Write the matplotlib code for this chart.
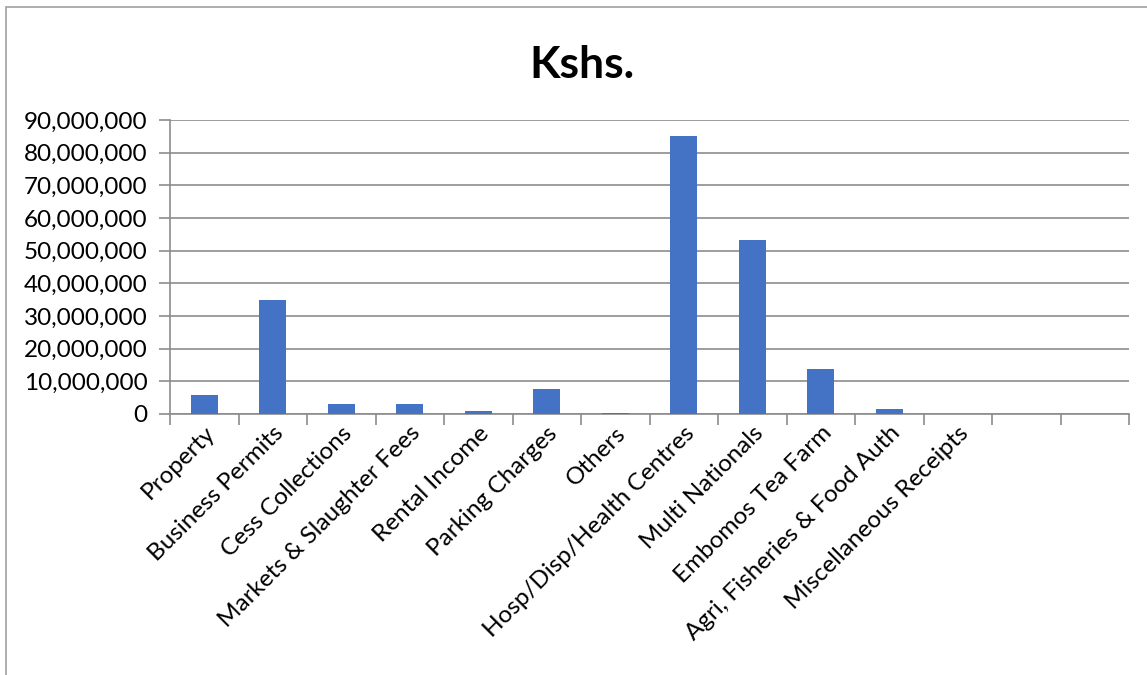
import numpy as np
import matplotlib.pyplot as plt
from matplotlib.ticker import FuncFormatter, MultipleLocator
from matplotlib.patches import Rectangle

plt.rcParams['font.family'] = ['Lato', 'DejaVu Sans']

categories = ['Property', 'Business Permits', 'Cess Collections', 'Markets & Slaughter Fees',
              'Rental Income', 'Parking Charges', 'Others', 'Hosp/Disp/Health Centres',
              'Multi Nationals', 'Embomos Tea Farm', 'Agri, Fisheries & Food Auth',
              'Miscellaneous Receipts', '', '']
values = [5.8e6, 35.0e6, 3.2e6, 3.2e6, 1.0e6, 7.8e6, 0.2e6, 85.0e6,
          53.3e6, 13.9e6, 1.4e6, 0, 0, 0]

fig = plt.figure(figsize=(11.47, 6.75), dpi=100)
ax = fig.add_axes([170/1147, 1-414/675, (1129-170)/1147, (414-120)/675])

x = np.arange(len(categories))
ax.bar(x, values, width=0.4, color='#4472C4', zorder=3)

ax.set_xlim(-0.5, len(categories)-0.5)
ax.set_ylim(0, 90e6)
ax.yaxis.set_major_locator(MultipleLocator(10e6))
ax.yaxis.set_major_formatter(FuncFormatter(lambda v, p: f'{int(v):,}'))
ax.grid(axis='y', color='#8c8c8c', linewidth=1.2, zorder=0)

ax.set_xticks(x)
ax.set_xticklabels(categories, rotation=45, ha='right', rotation_mode='anchor', fontsize=17.5)
ax.set_xticks(np.arange(len(categories)+1)-0.5, minor=True)
ax.tick_params(axis='x', which='major', length=0, pad=6)
ax.tick_params(axis='x', which='minor', length=8, width=1.2, color='#8c8c8c', direction='out')
ax.tick_params(axis='y', length=8, width=1.2, color='#8c8c8c', labelsize=17.5, pad=8)

for s in ['top', 'right']:
    ax.spines[s].set_visible(False)
for s in ['left', 'bottom']:
    ax.spines[s].set_color('#8c8c8c')
    ax.spines[s].set_linewidth(1.2)

fig.text(582/1147, 1-65/675, 'Kshs.', ha='center', va='center', fontsize=32, fontweight='bold')

fig.patches.append(Rectangle((6/1147, -0.1), 1.2, 1-7/675+0.1, transform=fig.transFigure,
                             fill=False, edgecolor='#a0a0a0', linewidth=1.2))

plt.savefig('out.png', dpi=100)
